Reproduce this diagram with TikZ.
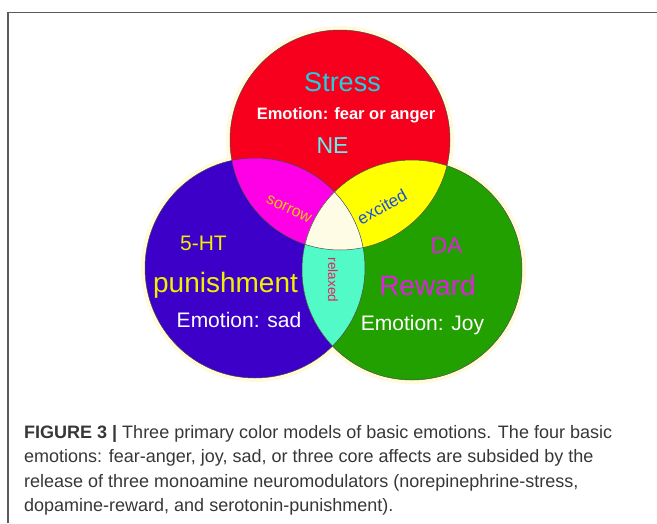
\documentclass[tikz,border=0pt]{standalone}
\usepackage{fontspec}
\setmainfont{Liberation Sans}
\definecolor{cred}{RGB}{246,0,30}
\definecolor{cblue}{RGB}{60,0,200}
\definecolor{cgreen}{RGB}{34,160,0}
\definecolor{cmag}{RGB}{255,0,230}
\definecolor{cyel}{RGB}{255,255,0}
\definecolor{ccyan}{RGB}{82,250,200}
\definecolor{ccream}{RGB}{255,252,230}
\definecolor{chalo}{RGB}{255,251,218}
\definecolor{tstress}{RGB}{32,208,224}
\definecolor{tne}{RGB}{96,240,240}
\definecolor{tyel}{RGB}{240,240,0}
\definecolor{tsorrow}{RGB}{232,200,0}
\definecolor{texcited}{RGB}{26,80,224}
\definecolor{trelax}{RGB}{232,32,90}
\definecolor{tmag}{RGB}{224,32,224}
\definecolor{capgray}{RGB}{55,55,55}
\definecolor{framegray}{RGB}{90,90,90}
\tikzset{
  lbl/.style={inner sep=0pt, anchor=base},
  capline/.style={inner sep=0pt, anchor=base west, text=capgray, font=\fontsize{18}{22}\selectfont},
  rim/.style={draw=black!70, line width=0.5pt},
}
\begin{document}
\begin{tikzpicture}[x=1pt,y=-1pt]
\useasboundingbox (0,0) rectangle (657,523);
\fill[white] (0,0) rectangle (657,523);
% frame
\draw[framegray, line width=1.3pt] (8,523) -- (8,12.5) -- (657,12.5);
% centres
\coordinate (R) at (340,140);
\coordinate (B) at (255,268);
\coordinate (G) at (412,270);
\def\rr{110}
% halo
\fill[chalo] (R) circle (114);
\fill[chalo] (B) circle (114);
\fill[chalo] (G) circle (114);
% base circles
\fill[cred] (R) circle (\rr);
\fill[cblue] (B) circle (\rr);
\fill[cgreen] (G) circle (\rr);
% intersections
\begin{scope}
  \clip (R) circle (\rr);
  \fill[cmag] (B) circle (\rr);
  \fill[cyel] (G) circle (\rr);
\end{scope}
\begin{scope}
  \clip (B) circle (\rr);
  \fill[ccyan] (G) circle (\rr);
  \clip (G) circle (\rr);
  \fill[ccream] (R) circle (\rr);
\end{scope}
% outlines
\draw[rim] (R) circle (\rr);
\draw[rim] (B) circle (\rr);
\draw[rim] (G) circle (\rr);
% labels
\node[lbl, text=tstress, font=\fontsize{27}{30}\selectfont] (stress) at (342.5,91) {Stress};
\node[lbl, text=white, font=\bfseries\fontsize{16.5}{20}\selectfont] (fear) at (346,119) {Emotion: fear or anger};
\node[lbl, text=tne, font=\fontsize{23}{26}\selectfont] (ne) at (332.5,153) {NE};
\node[inner sep=0pt, text=tsorrow, font=\fontsize{16}{18}\selectfont, rotate=-25] (sorrow) at (289,209) {sorrow};
\node[inner sep=0pt, text=texcited, font=\fontsize{17}{19}\selectfont, rotate=29] (excited) at (382,207) {excited};
\node[inner sep=0pt, text=trelax, font=\fontsize{13.5}{16}\selectfont, rotate=-90] (relaxed) at (333,280) {relaxed};
\node[lbl, text=tyel, font=\fontsize{21}{24}\selectfont] (ht) at (203.5,250) {5-HT};
\node[lbl, text=tyel, font=\fontsize{28}{32}\selectfont] (pun) at (225.5,292) {punishment};
\node[lbl, text=white, font=\fontsize{21}{24}\selectfont] (sad) at (239,327) {Emotion: sad};
\node[lbl, text=tmag, font=\fontsize{23}{26}\selectfont] (da) at (446.5,253) {DA};
\node[lbl, text=tmag, font=\fontsize{28}{32}\selectfont] (reward) at (427.5,295) {Reward};
\node[lbl, text=white, font=\fontsize{21}{24}\selectfont] (joy) at (422.5,330) {Emotion: Joy};
% caption
\node[capline] (cap1) at (24,438) {\textbf{FIGURE 3 |} Three primary color models of basic emotions. The four basic};
\node[capline] (cap2) at (24,462.5) {emotions: fear-anger, joy, sad, or three core affects are subsided by the};
\node[capline] (cap3) at (24,487) {release of three monoamine neuromodulators (norepinephrine-stress,};
\node[capline] (cap4) at (24,511.5) {dopamine-reward, and serotonin-punishment).};
\end{tikzpicture}
\end{document}
